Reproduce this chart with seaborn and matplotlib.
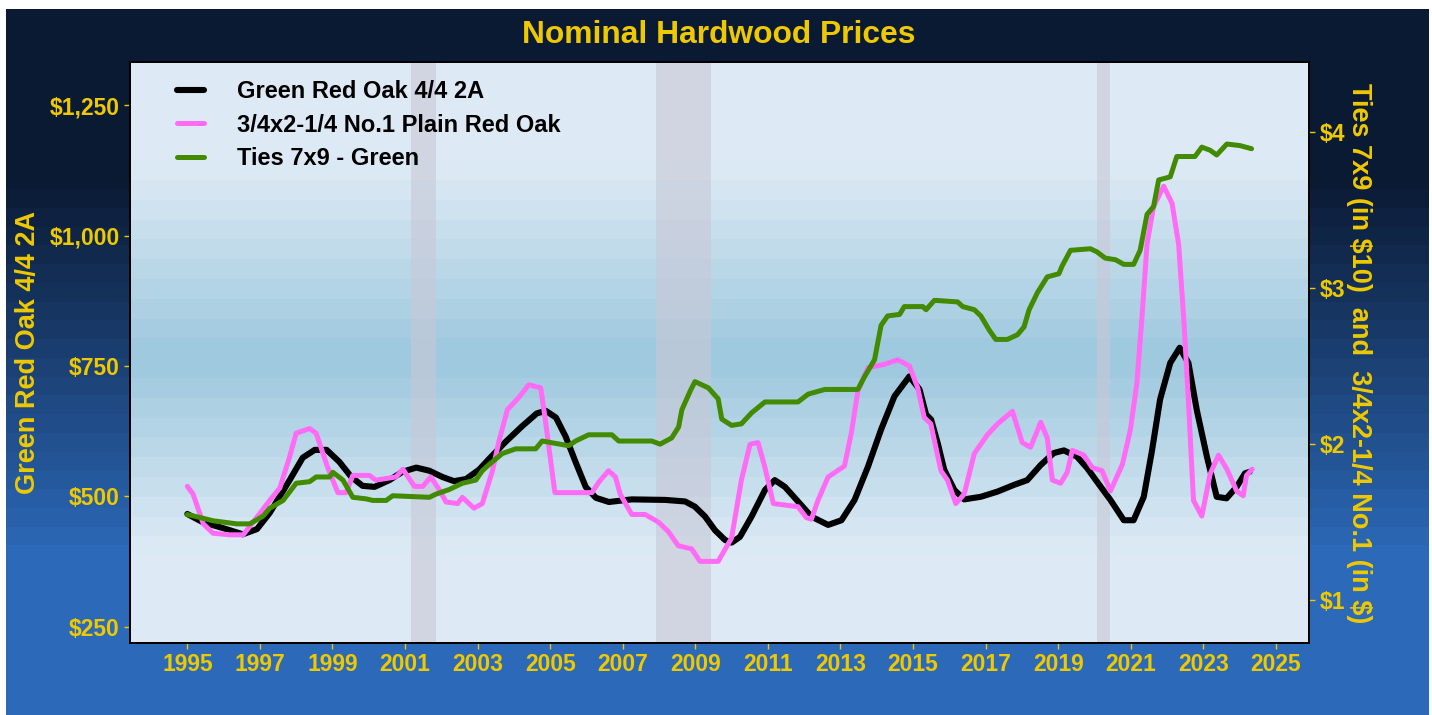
import numpy as np
import pandas as pd
import matplotlib
matplotlib.use("Agg")
import matplotlib.pyplot as plt
import seaborn as sns
from matplotlib.colors import to_rgb
from matplotlib.ticker import FixedLocator, FuncFormatter

# ---------------- data ----------------
oak_years = [1995.00, 1995.43, 1995.98, 1996.53, 1996.92, 1997.27, 1997.54, 1997.82, 1998.18, 1998.51,
             1998.84, 1999.19, 1999.52, 1999.83, 2000.16, 2000.57, 2000.93, 2001.31, 2001.67, 2002.03,
             2002.35, 2002.68, 2003.04, 2003.32, 2003.78, 2004.22, 2004.63, 2004.88, 2005.16, 2005.43,
             2005.71, 2005.98, 2006.26, 2006.62, 2007.25, 2008.17, 2008.72, 2008.99, 2009.27, 2009.54,
             2009.82, 2010.00, 2010.23, 2010.55, 2010.92, 2011.19, 2011.47, 2011.83, 2012.20, 2012.66,
             2013.03, 2013.39, 2013.76, 2014.12, 2014.49, 2014.90, 2015.18, 2015.36, 2015.50, 2015.68,
             2015.86, 2016.14, 2016.41, 2016.87, 2017.33, 2017.79, 2018.15, 2018.52, 2018.88, 2019.16,
             2019.52, 2019.80, 2020.07, 2020.44, 2020.81, 2021.08, 2021.36, 2021.59, 2021.81, 2022.09,
             2022.35, 2022.59, 2022.82, 2023.10, 2023.37, 2023.64, 2023.92, 2024.15, 2024.28]
oak_values = [466, 450, 439, 427, 437, 468, 499, 531, 574, 589,
              589, 566, 537, 520, 518, 531, 547, 555, 549, 537,
              529, 533, 551, 572, 605, 634, 659, 664, 651, 614,
              564, 518, 497, 489, 494, 493, 490, 480, 461, 435,
              416, 411, 422, 461, 512, 531, 518, 490, 461, 445,
              454, 493, 557, 628, 692, 730, 705, 657, 647, 602,
              551, 512, 494, 499, 509, 522, 531, 560, 583, 588,
              576, 554, 528, 493, 454, 454, 499, 589, 686, 756,
              785, 756, 666, 576, 499, 496, 518, 544, 547]

plain_years = [1995.00, 1995.16, 1995.44, 1995.71, 1996.17, 1996.54, 1996.91, 1997.27, 1997.55, 1997.82,
               1998.00, 1998.37, 1998.55, 1998.87, 1999.15, 1999.38, 1999.56, 2000.02, 2000.20, 2000.75,
               2000.94, 2001.26, 2001.49, 2001.71, 2001.94, 2002.13, 2002.45, 2002.58, 2002.90, 2003.13,
               2003.41, 2003.59, 2003.82, 2004.14, 2004.41, 2004.74, 2004.87, 2005.01, 2005.13, 2006.15,
               2006.35, 2006.61, 2006.80, 2006.93, 2007.25, 2007.62, 2007.99, 2008.26, 2008.53, 2008.90,
               2009.13, 2009.63, 2010.00, 2010.27, 2010.51, 2010.73, 2010.92, 2011.15, 2011.83, 2012.06,
               2012.20, 2012.38, 2012.66, 2013.11, 2013.30, 2013.48, 2013.76, 2014.21, 2014.58, 2014.90,
               2015.13, 2015.31, 2015.49, 2015.77, 2015.95, 2016.18, 2016.41, 2016.69, 2017.05, 2017.33,
               2017.74, 2018.01, 2018.24, 2018.52, 2018.70, 2018.84, 2019.07, 2019.25, 2019.39, 2019.71,
               2019.94, 2020.21, 2020.44, 2020.77, 2020.99, 2021.17, 2021.31, 2021.45, 2021.63, 2021.91,
               2022.14, 2022.32, 2022.46, 2022.59, 2022.73, 2022.96, 2023.19, 2023.42, 2023.65, 2023.92,
               2024.10, 2024.19, 2024.35]
plain_values = [1.73, 1.68, 1.49, 1.43, 1.42, 1.42, 1.53, 1.64, 1.72, 1.92,
                2.07, 2.10, 2.07, 1.85, 1.69, 1.69, 1.80, 1.80, 1.77, 1.79,
                1.84, 1.73, 1.73, 1.79, 1.71, 1.63, 1.62, 1.66, 1.59, 1.62,
                1.83, 2.02, 2.22, 2.30, 2.38, 2.36, 2.15, 1.90, 1.69, 1.69,
                1.76, 1.83, 1.79, 1.68, 1.55, 1.55, 1.50, 1.44, 1.35, 1.33,
                1.25, 1.25, 1.40, 1.77, 2.00, 2.01, 1.85, 1.62, 1.60, 1.53,
                1.52, 1.64, 1.79, 1.86, 2.07, 2.34, 2.49, 2.51, 2.54, 2.50,
                2.36, 2.17, 2.13, 1.83, 1.77, 1.62, 1.68, 1.94, 2.06, 2.13,
                2.21, 2.01, 1.98, 2.14, 2.04, 1.77, 1.75, 1.82, 1.96, 1.93,
                1.85, 1.83, 1.70, 1.87, 2.09, 2.39, 2.81, 3.28, 3.52, 3.65,
                3.54, 3.28, 2.81, 2.28, 1.64, 1.54, 1.81, 1.93, 1.84, 1.70,
                1.67, 1.80, 1.84]

ties_years = [1995.00, 1995.71, 1996.36, 1996.72, 1997.09, 1997.27, 1997.64, 1998.00, 1998.37, 1998.55,
              1998.92, 1999.01, 1999.29, 1999.56, 1999.93, 2000.11, 2000.48, 2000.66, 2001.67, 2001.85,
              2002.22, 2002.58, 2002.95, 2003.13, 2003.32, 2003.68, 2004.05, 2004.60, 2004.78, 2005.51,
              2005.70, 2006.06, 2006.70, 2006.89, 2007.80, 2008.03, 2008.35, 2008.54, 2008.63, 2008.86,
              2008.99, 2009.36, 2009.63, 2009.73, 2010.00, 2010.27, 2010.55, 2010.92, 2011.83, 2012.11,
              2012.57, 2013.48, 2013.66, 2013.94, 2014.12, 2014.30, 2014.63, 2014.76, 2015.27, 2015.36,
              2015.59, 2016.23, 2016.37, 2016.69, 2016.87, 2017.10, 2017.28, 2017.60, 2017.88, 2018.06,
              2018.20, 2018.43, 2018.70, 2019.02, 2019.11, 2019.34, 2019.89, 2020.07, 2020.30, 2020.58,
              2020.81, 2021.08, 2021.26, 2021.45, 2021.63, 2021.77, 2022.09, 2022.27, 2022.77, 2022.96,
              2023.19, 2023.37, 2023.65, 2024.01, 2024.33]
ties_values = [1.55, 1.51, 1.49, 1.49, 1.54, 1.59, 1.64, 1.75, 1.76, 1.79,
               1.79, 1.82, 1.77, 1.66, 1.65, 1.64, 1.64, 1.67, 1.66, 1.68,
               1.71, 1.75, 1.77, 1.83, 1.87, 1.94, 1.97, 1.97, 2.02, 1.99,
               2.02, 2.06, 2.06, 2.02, 2.02, 2.00, 2.04, 2.11, 2.22, 2.34,
               2.40, 2.36, 2.29, 2.16, 2.12, 2.13, 2.20, 2.27, 2.27, 2.32,
               2.35, 2.35, 2.43, 2.54, 2.76, 2.82, 2.83, 2.88, 2.88, 2.86,
               2.92, 2.91, 2.88, 2.86, 2.82, 2.73, 2.67, 2.67, 2.70, 2.75,
               2.86, 2.97, 3.07, 3.09, 3.14, 3.24, 3.25, 3.23, 3.19, 3.18,
               3.15, 3.15, 3.24, 3.47, 3.52, 3.69, 3.71, 3.84, 3.84, 3.90,
               3.88, 3.85, 3.92, 3.91, 3.89]

recession_starts = [2001.17, 2007.92, 2020.08]
recession_ends = [2001.84, 2009.42, 2020.42]

series_names = ["Green Red Oak 4/4 2A", "3/4x2-1/4 No.1 Plain Red Oak", "Ties 7x9 - Green"]
left_ticks = [250, 500, 750, 1000, 1250]
right_ticks = [1, 2, 3, 4]
year_ticks = list(range(1995, 2026, 2))

title_text = "Nominal Hardwood Prices"
left_label = "Green Red Oak 4/4 2A"
right_label = "Ties 7x9 (in $10)  and  3/4x2-1/4 No.1 (in $)"

# ---------------- style ----------------
GOLD = "#EEC900"
DARK = np.array(to_rgb("#0B1A33"))
BLUE = np.array(to_rgb("#2C69B8"))
LIGHT = np.array(to_rgb("#DDEAF5"))
MID = np.array(to_rgb("#9CC7DD"))

sns.set_theme(style="white")
plt.rcParams["font.family"] = ["Liberation Sans", "DejaVu Sans"]
plt.rcParams["font.weight"] = "bold"

W, H = 1432, 715
fig = plt.figure(figsize=(W / 100, H / 100), dpi=100, facecolor="white")

# figure background gradient (banded)
bg = fig.add_axes([6 / W, 0, (W - 10) / W, (H - 9) / H], zorder=-10)
bg.set_axis_off()
rows = np.arange(9, H)
t = np.clip((rows - 170) / (545 - 170), 0, 1)
t = np.floor(t * 20) / 20
img = (DARK[None, :] * (1 - t[:, None]) + BLUE[None, :] * t[:, None])[:, None, :]
bg.imshow(img, aspect="auto", extent=(0, 1, 0, 1), interpolation="nearest")
bg.set_xlim(0, 1)
bg.set_ylim(0, 1)

# main axes
x0, x1 = 130, 1308.5
y0, y1 = 61.7, 643.3
ax = fig.add_axes([x0 / W, 1 - y1 / H, (x1 - x0) / W, (y1 - y0) / H])
ax.set_facecolor(LIGHT)
YL = (217.8, 1334.0)
ax.set_xlim(1993.42, 2025.9)
ax.set_ylim(*YL)

# plot-area banded gradient
step = 38
k = np.arange(-30, 30)
for e in 765 + step * k:
    lo, hi = e, e + step
    if hi < YL[0] or lo > YL[1]:
        continue
    mid = (lo + hi) / 2
    tt = np.clip(1 - abs(mid - 765) / 370, 0, 1)
    c = LIGHT * (1 - tt) + MID * tt
    ax.axhspan(lo, hi, color=c, lw=0, zorder=0)

for a, b in zip(recession_starts, recession_ends):
    ax.axvspan(a, b, color="#C9C8D6", alpha=0.6, lw=0, zorder=1)

oak_df = pd.DataFrame({"year": oak_years, "value": oak_values})
sns.lineplot(data=oak_df, x="year", y="value", ax=ax, color="black", linewidth=4.4,
             estimator=None, sort=False, label=series_names[0], zorder=3)

ax2 = ax.twinx()
ax2.set_ylim(YL[0] / 300, YL[1] / 300)
plain_df = pd.DataFrame({"year": plain_years, "value": plain_values})
ties_df = pd.DataFrame({"year": ties_years, "value": ties_values})
sns.lineplot(data=plain_df, x="year", y="value", ax=ax2, color="#FF6BF5", linewidth=3.6,
             estimator=None, sort=False, label=series_names[1], zorder=3)
sns.lineplot(data=ties_df, x="year", y="value", ax=ax2, color="#428A00", linewidth=3.6,
             estimator=None, sort=False, label=series_names[2], zorder=3)

for a in (ax, ax2):
    a.set_xlabel("")
    a.set_ylabel("")
    if a.get_legend() is not None:
        a.get_legend().remove()
    for s in a.spines.values():
        s.set_color("black")
        s.set_linewidth(1.3)

ax.xaxis.set_major_locator(FixedLocator(year_ticks))
ax.xaxis.set_major_formatter(FuncFormatter(lambda v, p: f"{int(round(v))}"))
ax.yaxis.set_major_locator(FixedLocator(left_ticks))
ax.yaxis.set_major_formatter(FuncFormatter(lambda v, p: f"${v:,.0f}"))
ax2.yaxis.set_major_locator(FixedLocator(right_ticks))
ax2.yaxis.set_major_formatter(FuncFormatter(lambda v, p: f"${v:,.0f}"))

ax.tick_params(axis="x", colors=GOLD, labelsize=16.5, length=4.5, width=1, pad=2.5, direction="out", bottom=True)
ax.tick_params(axis="y", colors=GOLD, labelsize=16.5, length=4.5, width=1, pad=3, direction="out", left=True)
ax2.tick_params(axis="y", colors=GOLD, labelsize=16.5, length=4.5, width=1, pad=3.5, direction="out", right=True)
for lab in ax.get_xticklabels() + ax.get_yticklabels() + ax2.get_yticklabels():
    lab.set_fontweight("bold")

h1, l1 = ax.get_legend_handles_labels()
h2, l2 = ax2.get_legend_handles_labels()
leg = ax2.legend(h1 + h2, l1 + l2, loc="upper left", bbox_to_anchor=(177 / W, 1 - 80 / H),
                 bbox_transform=fig.transFigure, frameon=False, fontsize=17,
                 handlelength=1.15, handletextpad=1.4, labelspacing=0.45,
                 borderpad=0, borderaxespad=0)
for txt in leg.get_texts():
    txt.set_color("black")
    txt.set_fontweight("bold")

fig.text(719 / W, 1 - 43.3 / H, title_text, color=GOLD, fontsize=22.9, fontweight="bold",
         ha="center", va="baseline")
fig.text(28 / W, 1 - 352 / H, left_label, color=GOLD, fontsize=19.5, fontweight="bold",
         rotation=90, ha="center", va="center", parse_math=False)
fig.text(1359 / W, 1 - 353 / H, right_label, color=GOLD, fontsize=19.5, fontweight="bold",
         rotation=270, ha="center", va="center", parse_math=False)

fig.savefig("out.png", dpi=100, facecolor=fig.get_facecolor())
